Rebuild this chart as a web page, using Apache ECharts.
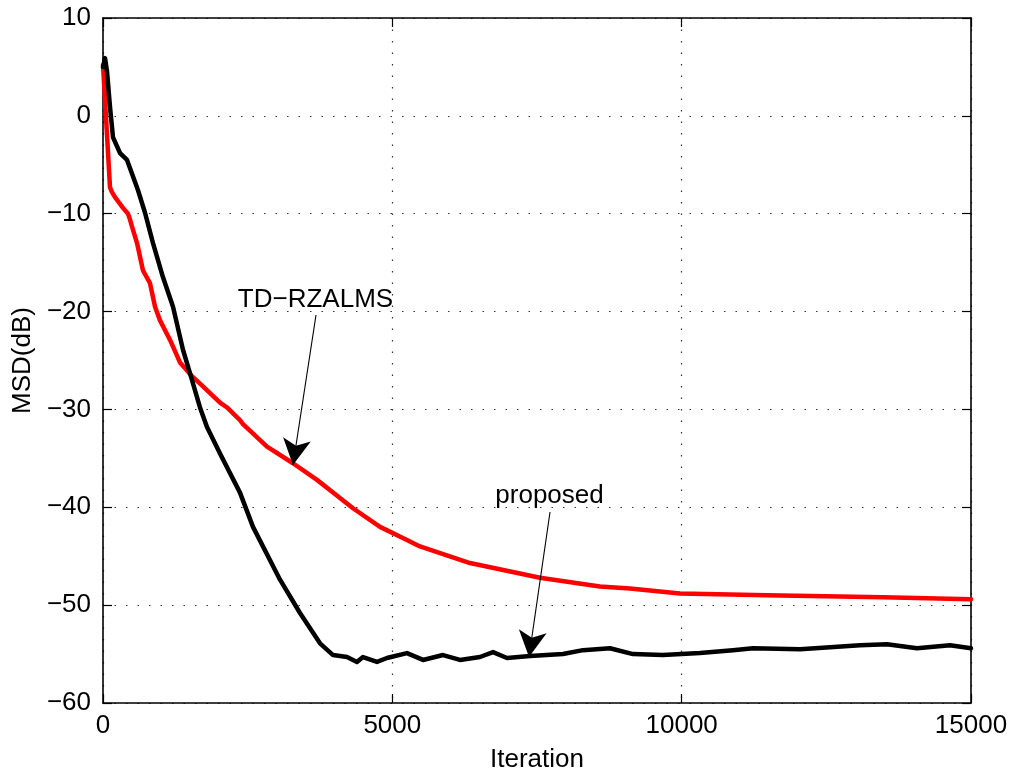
<!DOCTYPE html>
<html>
<head>
<meta charset="utf-8">
<script src="https://cdn.jsdelivr.net/npm/echarts@6/dist/echarts.min.js"></script>
<style>
html,body{margin:0;padding:0;background:#fff;}
#chart{width:1014px;height:771px;}
</style>
</head>
<body>
<div id="chart"></div>
<script>
// ---- data ----
const xTicks = [0, 5000, 10000, 15000];
const yTicks = [-60, -50, -40, -30, -20, -10, 0, 10];

const iterRed = [0, 121, 155, 207, 345, 432, 467, 500, 588, 691, 812, 899, 985, 1158, 1330, 1555, 1700, 2022, 2143, 2367, 2419, 2834, 3283, 3698, 3975, 4320, 4787, 5200, 5478, 6342, 7552, 8587, 9107, 9970, 11470, 13480, 15000];
const msdRed  = [5.2, -7.3, -7.8, -8.3, -9.4, -10.0, -10.6, -11.3, -13.0, -15.8, -17.1, -19.5, -20.9, -22.9, -25.2, -26.7, -27.5, -29.3, -29.8, -31.1, -31.5, -33.8, -35.5, -37.2, -38.5, -40.1, -42.0, -43.2, -44.0, -45.7, -47.2, -48.1, -48.3, -48.8, -49.0, -49.2, -49.4];

const iterBlack = [0, 35, 70, 121, 173, 294, 415, 500, 605, 726, 864, 1037, 1210, 1382, 1503, 1676, 1797, 2022, 2367, 2592, 3059, 3404, 3750, 3975, 4217, 4389, 4493, 4735, 4907, 5253, 5530, 5876, 6169, 6515, 6740, 6981, 7379, 7949, 8295, 8761, 9159, 9677, 10316, 10887, 11233, 12045, 13082, 13548, 14067, 14637, 15000];
const msdBlack  = [5.0, 5.9, 4.5, 0.9, -2.2, -3.8, -4.5, -5.9, -7.6, -9.9, -13.0, -16.5, -19.5, -23.9, -26.3, -29.8, -31.8, -34.5, -38.5, -42.0, -47.4, -50.8, -53.9, -55.1, -55.3, -55.8, -55.3, -55.8, -55.4, -54.9, -55.6, -55.1, -55.6, -55.3, -54.8, -55.4, -55.2, -55.0, -54.6, -54.4, -55.0, -55.1, -54.9, -54.6, -54.4, -54.5, -54.1, -54.0, -54.4, -54.1, -54.4];

// annotations: text position, arrow start, arrow tip (data coords)
const annoLabels = ['TD\u2212RZALMS', 'proposed'];
const annoText   = [[3681, -18.8], [7725, -38.9]];
const annoStart  = [[3681, -20.35], [7725, -40.48]];
const annoTip    = [[3283, -35.68], [7362, -55.3]];

// ---- chart ----
const FONT = "'Liberation Sans', Arial, Helvetica, sans-serif";
const FS = 26;
const zip = (a, b) => a.map((v, i) => [v, b[i]]);
const minusFmt = v => (v < 0 ? '\u2212' + Math.abs(v) : String(v));

const chart = echarts.init(document.getElementById('chart'), null, {renderer: 'canvas'});

const axisCommon = {
  type: 'value',
  axisLine: {show: true, onZero: false, lineStyle: {color: '#000', width: 1.6}},
  axisTick: {show: true, inside: true, length: 9, lineStyle: {color: '#000', width: 1.2}},
};

const option = {
  backgroundColor: '#fff',
  animation: false,
  grid: {left: 103, right: 43, top: 18, bottom: 68, containLabel: false, outerBoundsMode: 'none'},
  xAxis: [
    Object.assign({}, axisCommon, {
      position: 'bottom',
      min: xTicks[0], max: xTicks[xTicks.length - 1], interval: 5000,
      name: 'Iteration', nameLocation: 'middle', nameGap: 44,
      nameTextStyle: {fontFamily: FONT, fontSize: FS, color: '#000'},
      axisLabel: {fontFamily: FONT, fontSize: FS, color: '#000', margin: 10, formatter: minusFmt},
      splitLine: {show: true, lineStyle: {color: '#333', width: 1.2, type: [1.5, 10]}}
    }),
    Object.assign({}, axisCommon, {
      position: 'top',
      min: xTicks[0], max: xTicks[xTicks.length - 1], interval: 5000,
      axisLabel: {show: false}, splitLine: {show: false}
    })
  ],
  yAxis: [
    Object.assign({}, axisCommon, {
      position: 'left',
      min: yTicks[0], max: yTicks[yTicks.length - 1], interval: 10,
      name: 'MSD(dB)', nameLocation: 'middle', nameGap: 64, nameRotate: 90,
      nameTextStyle: {fontFamily: FONT, fontSize: FS, color: '#000'},
      axisLabel: {fontFamily: FONT, fontSize: FS, color: '#000', margin: 12, formatter: minusFmt},
      splitLine: {show: true, lineStyle: {color: '#333', width: 1.2, type: [1.5, 10]}}
    }),
    Object.assign({}, axisCommon, {
      position: 'right',
      min: yTicks[0], max: yTicks[yTicks.length - 1], interval: 10,
      axisLabel: {show: false}, splitLine: {show: false}
    })
  ],
  series: [
    {
      name: 'TD-RZALMS', type: 'line', data: zip(iterRed, msdRed),
      showSymbol: false, symbol: 'none', z: 3,
      lineStyle: {color: '#ff0000', width: 4.5, join: 'round', cap: 'round'}
    },
    {
      name: 'proposed', type: 'line', data: zip(iterBlack, msdBlack),
      showSymbol: false, symbol: 'none', z: 4,
      lineStyle: {color: '#000', width: 4.5, join: 'round', cap: 'round'}
    },
    {
      name: 'arrows', type: 'line', data: [], z: 6,
      markLine: {
        silent: true, animation: false,
        symbol: ['none', 'arrow'], symbolSize: [21, 26],
        lineStyle: {color: '#000', width: 1.1, type: 'solid'},
        label: {show: false},
        data: annoStart.map((s, i) => [{coord: s}, {coord: annoTip[i]}])
      }
    },
    {
      name: 'labels', type: 'scatter', symbol: 'circle', symbolSize: 1, z: 7,
      itemStyle: {color: 'rgba(0,0,0,0)'},
      data: annoText.map((p, i) => ({value: p, name: annoLabels[i]})),
      label: {
        show: true, position: [0, 0], align: 'center', verticalAlign: 'middle',
        formatter: p => p.name, opacity: 1, textBorderWidth: 0,
        fontFamily: FONT, fontSize: FS, color: '#000'
      }
    }
  ]
};
chart.setOption(option);
</script>
</body>
</html>
